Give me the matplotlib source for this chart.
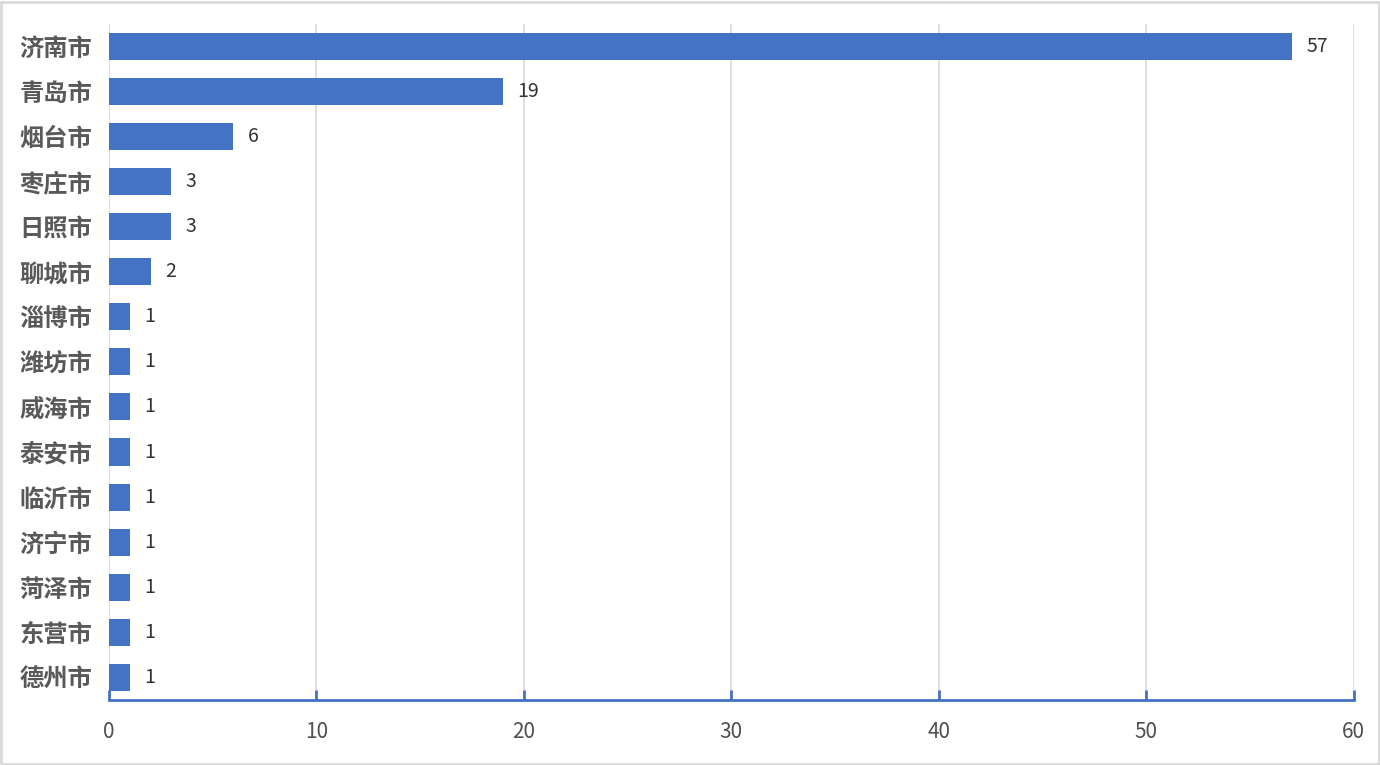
import matplotlib.pyplot as plt
from matplotlib.patches import Rectangle

plt.rcParams["font.family"] = ["Noto Sans CJK SC", "DejaVu Sans"]

cities = ["济南市", "青岛市", "烟台市", "枣庄市", "日照市", "聊城市", "淄博市", "潍坊市",
          "威海市", "泰安市", "临沂市", "济宁市", "菏泽市", "东营市", "德州市"]
counts = [57, 19, 6, 3, 3, 2, 1, 1, 1, 1, 1, 1, 1, 1, 1]
xticks = [0, 10, 20, 30, 40, 50, 60]

blue = "#4472C4"
txt = "#595959"

fig = plt.figure(figsize=(13.8, 7.65), dpi=100)
ax = fig.add_axes([0.079, 0.085, 0.902, 0.884])
ypos = list(range(len(cities)))
ax.barh(ypos, counts, height=0.6, color=blue, zorder=3)
# value labels just past the bar ends
for y, v in zip(ypos, counts):
    ax.text(v + 0.7, y, str(v), va="center", ha="left", fontsize=14,
            color="#333333")

ax.set_ylim(len(cities) - 0.5, -0.5)
ax.set_xlim(0, 60)
ax.set_yticks(ypos)
ax.set_yticklabels(cities, fontsize=17.5, color=txt, fontweight="bold")
ax.set_xticks(xticks)
ax.set_xticklabels([str(t) for t in xticks], fontsize=15, color="#505050")
ax.tick_params(axis="y", length=0, pad=12)
ax.tick_params(axis="x", direction="in", length=7, width=2, color=blue, pad=15)
ax.grid(axis="x", color="#d9d9d9", lw=1.2, zorder=0)
for s in ["top", "right", "left"]:
    ax.spines[s].set_visible(False)
ax.spines["bottom"].set_color(blue)
ax.spines["bottom"].set_linewidth(2)

fig.patches.append(Rectangle((0.001, 0.001), 0.998, 0.997, transform=fig.transFigure,
                             fill=False, edgecolor="#d9d9d9", lw=2))
fig.savefig("out.png", dpi=100)
